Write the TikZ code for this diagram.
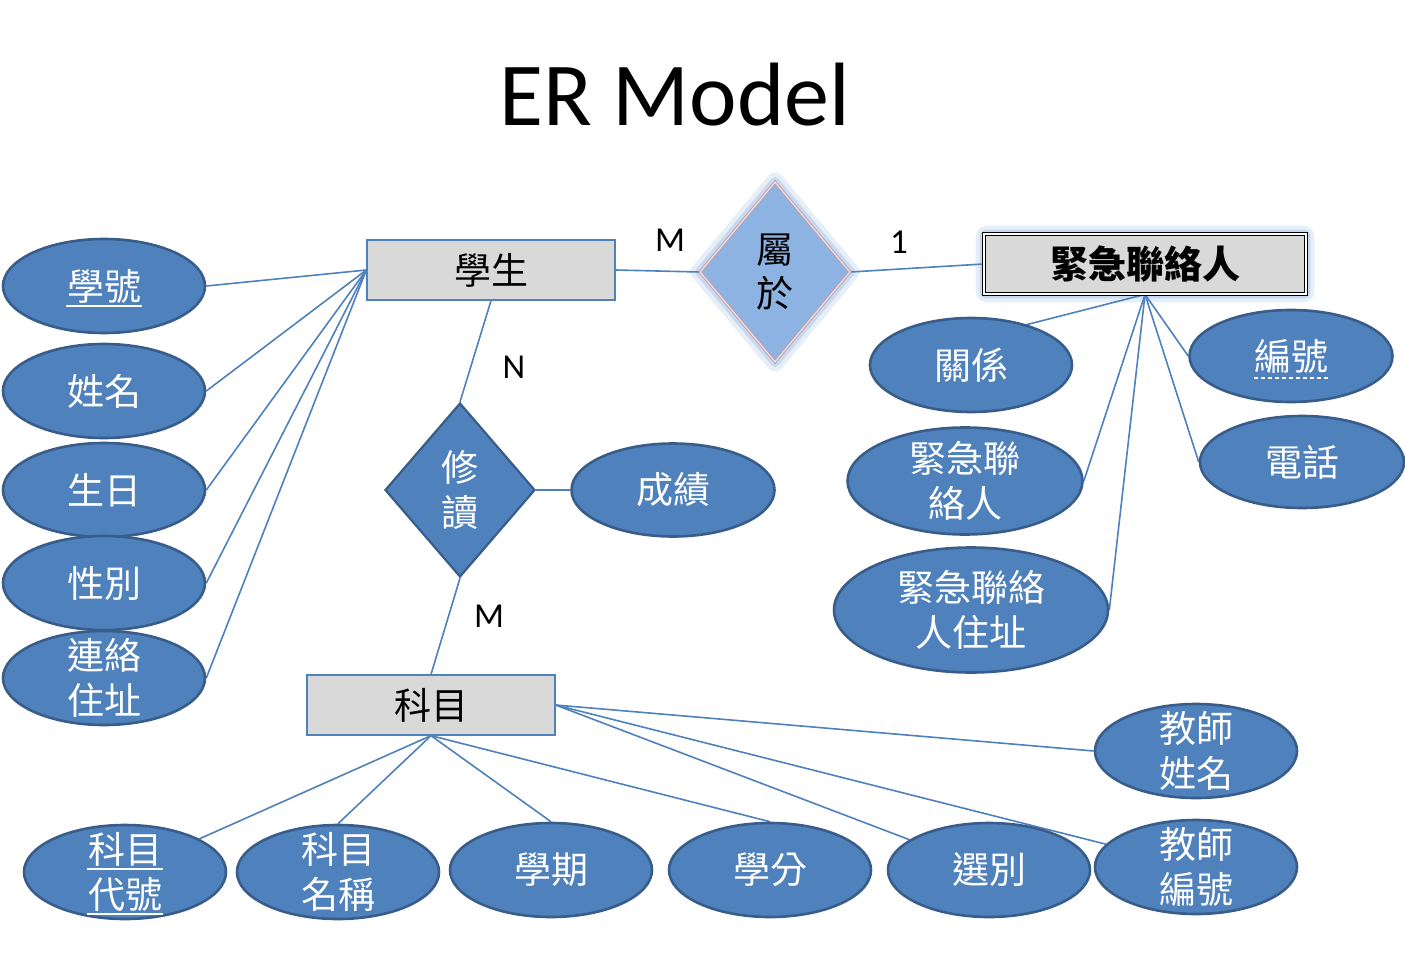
\documentclass[tikz,border=0pt]{standalone}
\usepackage{fontspec}
\setmainfont{Carlito}
\newfontfamily\cjk{Noto Sans CJK TC}
\usetikzlibrary{shapes.geometric}
\pgfdeclarelayer{bg}
\pgfsetlayers{bg,main}
\definecolor{attrfill}{HTML}{4F81BD}
\definecolor{attrdraw}{HTML}{385D8A}
\definecolor{linec}{HTML}{4F81BD}
\definecolor{entfill}{HTML}{D9D9D9}
\definecolor{relfill}{HTML}{8DB3E2}
\definecolor{pinkc}{HTML}{D99694}
\definecolor{glowc}{HTML}{8EB4E3}
\begin{document}
\begin{tikzpicture}[x=1pt,y=-1pt,
  conn/.style={draw=linec, line width=1.6pt},
  attr/.style={ellipse, fill=attrfill, draw=attrdraw, line width=2.6pt, inner sep=0pt,
    minimum width=202pt, minimum height=94pt},
  atxt/.style={text=white, font=\cjk\fontsize{37}{45}\selectfont, align=center},
  ent/.style={rectangle, fill=entfill, draw=linec, line width=1.3pt,
    minimum width=248pt, minimum height=60pt, font=\cjk\fontsize{37}{45}\selectfont},
  card/.style={font=\fontsize{35}{40}\selectfont},
  uline/.style={draw=white, line width=2pt},
  glow/.style={draw=glowc, opacity=#1, line join=round}]
\useasboundingbox (0,0) rectangle (1405,960);

% title
\node[font=\fontsize{90}{100}\selectfont] (title) at (675,95) {ER Model};

% entities
\node[ent] (stu) at (491,270) {學生};
\node[ent] (sub) at (431,705) {科目};
\node[rectangle, fill=entfill, draw=black, line width=0.8pt, double=white, double distance=1.6pt,
  minimum width=322pt, minimum height=60pt, font=\cjk\bfseries\fontsize{38}{45}\selectfont]
  (emg) at (1145,264) {緊急聯絡人};

% relationships
\node[diamond, fill=relfill, draw=pinkc, line width=0.8pt, double=relfill!40!white, double distance=1.4pt,
  inner sep=0pt, minimum width=150pt, minimum height=180pt, align=center,
  font=\cjk\fontsize{37}{44}\selectfont] (bel) at (775,272) {屬\\於};
\node[diamond, fill=attrfill, draw=attrdraw, line width=2.2pt, inner sep=0pt,
  minimum width=150pt, minimum height=174pt, align=center, text=white,
  font=\cjk\fontsize{37}{45}\selectfont] (take) at (460,490) {修\\讀};

% student attributes
\node[attr, label={[atxt]center:學號}] (aid) at (104,286) {};
\node[attr, label={[atxt]center:姓名}] (aname) at (104,391) {};
\node[attr, label={[atxt]center:生日}] (abirth) at (104,490) {};
\node[attr, label={[atxt]center:性別}] (asex) at (104,583) {};
\node[attr, label={[atxt]center:連絡\\住址}] (aaddr) at (104,678) {};

% take attribute
\node[attr, minimum width=203pt, minimum height=93pt, label={[atxt]center:成績}] (score) at (673,490) {};

% emergency contact attributes
\node[attr, minimum width=202pt, minimum height=94pt, label={[atxt]center:關係}] (rel) at (971,365) {};
\node[attr, minimum width=203pt, minimum height=92pt, label={[atxt]center:編號}] (num) at (1291,356) {};
\node[attr, minimum width=204pt, minimum height=92pt, label={[atxt]center:電話}] (tel) at (1302,462) {};
\node[attr, minimum width=235pt, minimum height=107pt, label={[atxt]center:緊急聯\\絡人}] (eca) at (965,481) {};
\node[attr, minimum width=274pt, minimum height=125pt, label={[atxt]center:緊急聯絡\\人住址}] (ecaddr) at (971,610) {};

% subject attributes
\node[attr, label={[atxt]center:科目\\代號}] (scode) at (125,872) {};
\node[attr, label={[atxt]center:科目\\名稱}] (sname) at (338,872) {};
\node[attr, label={[atxt]center:學期}] (sem) at (551,870) {};
\node[attr, label={[atxt]center:學分}] (cred) at (770,870) {};
\node[attr, label={[atxt]center:選別}] (sel) at (989,870) {};
\node[attr, label={[atxt]center:教師\\編號}] (tnum) at (1196,867) {};
\node[attr, label={[atxt]center:教師\\姓名}] (tname) at (1196,751) {};

% underlines (keys)
\draw[uline] (aid.center) ++(-38,20) -- ++(76,0);
\draw[uline] (scode.center) ++(-38,-3) -- ++(76,0);
\draw[uline] (scode.center) ++(-38,42) -- ++(76,0);
\draw[uline, dash pattern=on 4pt off 3pt, line width=1.8pt] (num.center) ++(-37,22) -- ++(74,0);

% cardinalities
\node[card] (cM1) at (670,240) {M};
\node[card] (c1) at (899,242) {1};
\node[card] (cN) at (514,367) {N};
\node[card] (cM2) at (489,616) {M};

\begin{pgfonlayer}{bg}
  \fill[white] (0,0) rectangle (1405,960);
  % glows
  \draw[glow=0.22, line width=16pt, rounded corners=3pt] (emg.south west) rectangle (emg.north east);
  \draw[glow=0.35, line width=8pt, rounded corners=2pt] (emg.south west) rectangle (emg.north east);
  \draw[glow=0.22, line width=18pt] (bel.north) -- (bel.east) -- (bel.south) -- (bel.west) -- cycle;
  \draw[glow=0.35, line width=9pt] (bel.north) -- (bel.east) -- (bel.south) -- (bel.west) -- cycle;
  % connectors
  \draw[conn] (stu.west) -- (aid.east);
  \draw[conn] (stu.west) -- (aname.east);
  \draw[conn] (stu.west) -- (abirth.east);
  \draw[conn] (stu.west) -- (asex.east);
  \draw[conn] (stu.west) -- (aaddr.east);
  \draw[conn] (stu.east) -- (bel.west);
  \draw[conn] (bel.east) -- (emg.west);
  \draw[conn] (stu.south) -- (take.north);
  \draw[conn] (take.east) -- (score.west);
  \draw[conn] (take.south) -- (sub.north);
  \draw[conn] (emg.south) -- (rel.west);
  \draw[conn] (emg.south) -- (eca.east);
  \draw[conn] (emg.south) -- (ecaddr.east);
  \draw[conn] (emg.south) -- (num.west);
  \draw[conn] (emg.south) -- (tel.west);
  \draw[conn] (sub.south) -- (scode);
  \draw[conn] (sub.south) -- (sname.north);
  \draw[conn] (sub.south) -- (sem.north);
  \draw[conn] (sub.south) -- (cred.north);
  \draw[conn] (sub.east) -- (sel);
  \draw[conn] (sub.east) -- (tnum);
  \draw[conn] (sub.east) -- (tname.west);
\end{pgfonlayer}
\end{tikzpicture}
\end{document}
